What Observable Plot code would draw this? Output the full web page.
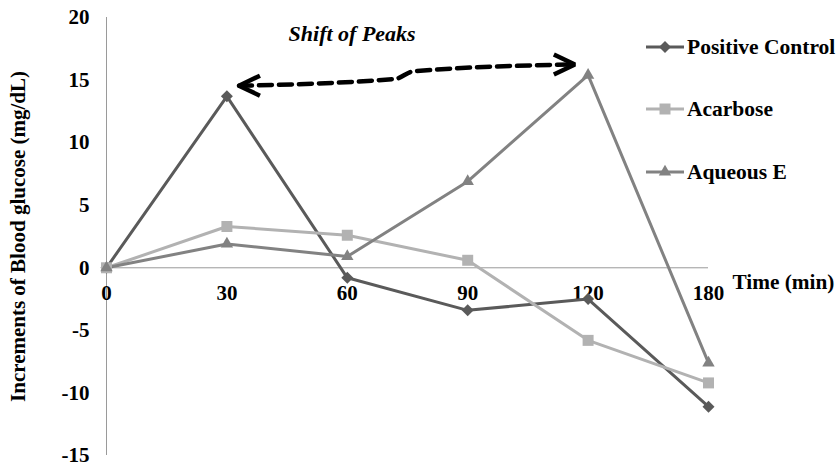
<!DOCTYPE html>
<html>
<head>
<meta charset="utf-8">
<script src="https://cdn.jsdelivr.net/npm/d3@7"></script>
<script src="https://cdn.jsdelivr.net/npm/@observablehq/plot@0.6"></script>
<style>
  html, body { margin: 0; padding: 0; background: #fff; }
  #wrap { position: relative; width: 837px; height: 467px; overflow: hidden; font-family: "Liberation Serif", "DejaVu Serif", serif; }
  #legend { position: absolute; left: 646px; top: 0; }
  .item { position: absolute; left: 0; display: flex; align-items: center; white-space: nowrap; font-weight: bold; font-size: 21.5px; color: #000; }
  .item svg { display: block; margin-right: 3px; }
</style>
</head>
<body>
<div id="wrap"><div id="legend"></div></div>
<script>
// ---- data ----
const timeLabels = ["0", "30", "60", "90", "120", "180"];
const seriesNames = ["Positive Control", "Acarbose", "Aqueous E"];
const positiveControl = [0, 13.7, -0.8, -3.4, -2.5, -11.1];
const acarbose = [0, 3.3, 2.6, 0.6, -5.8, -9.2];
const aqueousE = [0, 1.9, 0.9, 6.9, 15.4, -7.6];
const yTicks = [-15, -10, -5, 0, 5, 10, 15, 20];
const annotationText = ["Shift of Peaks"];

// ---- styles ----
const colors = ["#5a5a5a", "#b2b2b2", "#828282"];
const symbols = ["diamond2", "square", "triangle"];
const radii = [5.4, 6.2, 4.6];
const FONT = "'Liberation Serif', 'DejaVu Serif', serif";

const valuesBySeries = [positiveControl, acarbose, aqueousE];
const rows = seriesNames.flatMap((s, k) =>
  valuesBySeries[k].map((v, i) => ({series: s, i, value: v})));

// x: index 0..5 -> 106..708 px ; y: -15..20 -> 455..17 px
const pxX = 602 / 5, pxY = 438 / 35;
// arrow between the two peaks (annotation), offset above the peak points
const peakA = {x: 1, y: d3.max(positiveControl)};
const peakB = {x: 4, y: d3.max(aqueousE)};
const tipL = {x: peakA.x + 0.1, y: peakA.y + 0.85};
const tipR = {x: peakB.x - 0.11, y: peakB.y + 0.85};
const arrowPts = [tipL, {x: 2.4, y: 15.1}, {x: 2.55, y: 15.7}, tipR];
const headL = [
  {x: tipL.x + 21 / pxX, y: tipL.y + 10 / pxY}, tipL, {x: tipL.x + 21 / pxX, y: tipL.y - 10 / pxY}
];
const headR = [
  {x: tipR.x - 21 / pxX, y: tipR.y + 10 / pxY}, tipR, {x: tipR.x - 21 / pxX, y: tipR.y - 10 / pxY}
];

const marks = [
  Plot.ruleX([0], {y1: -15, y2: 20, stroke: "#9a9a9a", strokeWidth: 1}),
  Plot.ruleY([0], {x1: 0, x2: 5, stroke: "#9a9a9a", strokeWidth: 1}),
  Plot.axisY(yTicks, {tickSize: 0, tickPadding: 17, fontSize: 21, fontWeight: "bold", label: null, fill: "#000", tickFormat: d => String(d)}),
  Plot.text(timeLabels, {x: (d, i) => i, y: 0, dy: 25, fontSize: 21, fontWeight: "bold", fill: "#000"}),
  Plot.text(["Time (min)"], {x: 5, y: 0, dx: 24, dy: 14, textAnchor: "start", fontSize: 21.3, fontWeight: "bold", fill: "#000"}),
  Plot.text(["Increments of Blood glucose (mg/dL)"], {frameAnchor: "left", textAnchor: "middle", rotate: -90, dx: -88, fontSize: 21, fontWeight: "bold", fill: "#000"}),
  Plot.text(annotationText, {x: 2.04, y: 18.7, fontSize: 22, fontWeight: "bold", fontStyle: "italic", fill: "#000"}),
  Plot.line(arrowPts, {x: "x", y: "y", curve: "monotone-x", stroke: "#000", strokeWidth: 4.5, strokeDasharray: "13,7"}),
  Plot.line(headL, {x: "x", y: "y", stroke: "#000", strokeWidth: 4.5, strokeLinejoin: "miter", strokeLinecap: "butt"}),
  Plot.line(headR, {x: "x", y: "y", stroke: "#000", strokeWidth: 4.5, strokeLinejoin: "miter", strokeLinecap: "butt"}),
];
seriesNames.forEach((s, k) => {
  const d = rows.filter(r => r.series === s);
  marks.push(Plot.line(d, {x: "i", y: "value", stroke: colors[k], strokeWidth: 3}));
});
seriesNames.forEach((s, k) => {
  const d = rows.filter(r => r.series === s);
  marks.push(Plot.dot(d, {x: "i", y: "value", symbol: () => symbols[k], fill: colors[k], stroke: "none", r: radii[k]}));
});

const chart = Plot.plot({
  width: 837,
  height: 467,
  marginLeft: 106,
  marginRight: 129,
  marginTop: 17,
  marginBottom: 12,
  style: {fontFamily: FONT, background: "#fff", overflow: "visible"},
  x: {domain: [0, 5], axis: null},
  y: {domain: [-15, 20], axis: null},
  symbol: {domain: symbols, range: symbols},
  marks
});
document.getElementById("wrap").prepend(chart);

// legend
const legend = document.getElementById("legend");
const legendTops = [47, 109, 172];
seriesNames.forEach((s, k) => {
  const item = document.createElement("div");
  item.className = "item";
  item.style.top = (legendTops[k] - 14) + "px";
  item.style.height = "28px";
  const sw = d3.create("svg").attr("width", 38).attr("height", 28);
  sw.append("line").attr("x1", 0).attr("x2", 38).attr("y1", 14).attr("y2", 14)
    .attr("stroke", colors[k]).attr("stroke-width", 3);
  const sym = {diamond2: d3.symbolDiamond2, square: d3.symbolSquare, triangle: d3.symbolTriangle}[symbols[k]];
  sw.append("path").attr("transform", "translate(19,14)")
    .attr("d", d3.symbol(sym, Math.PI * radii[k] * radii[k])())
    .attr("fill", colors[k]);
  item.append(sw.node());
  const t = document.createElement("span");
  t.textContent = s;
  item.append(t);
  legend.append(item);
});
</script>
</body>
</html>
